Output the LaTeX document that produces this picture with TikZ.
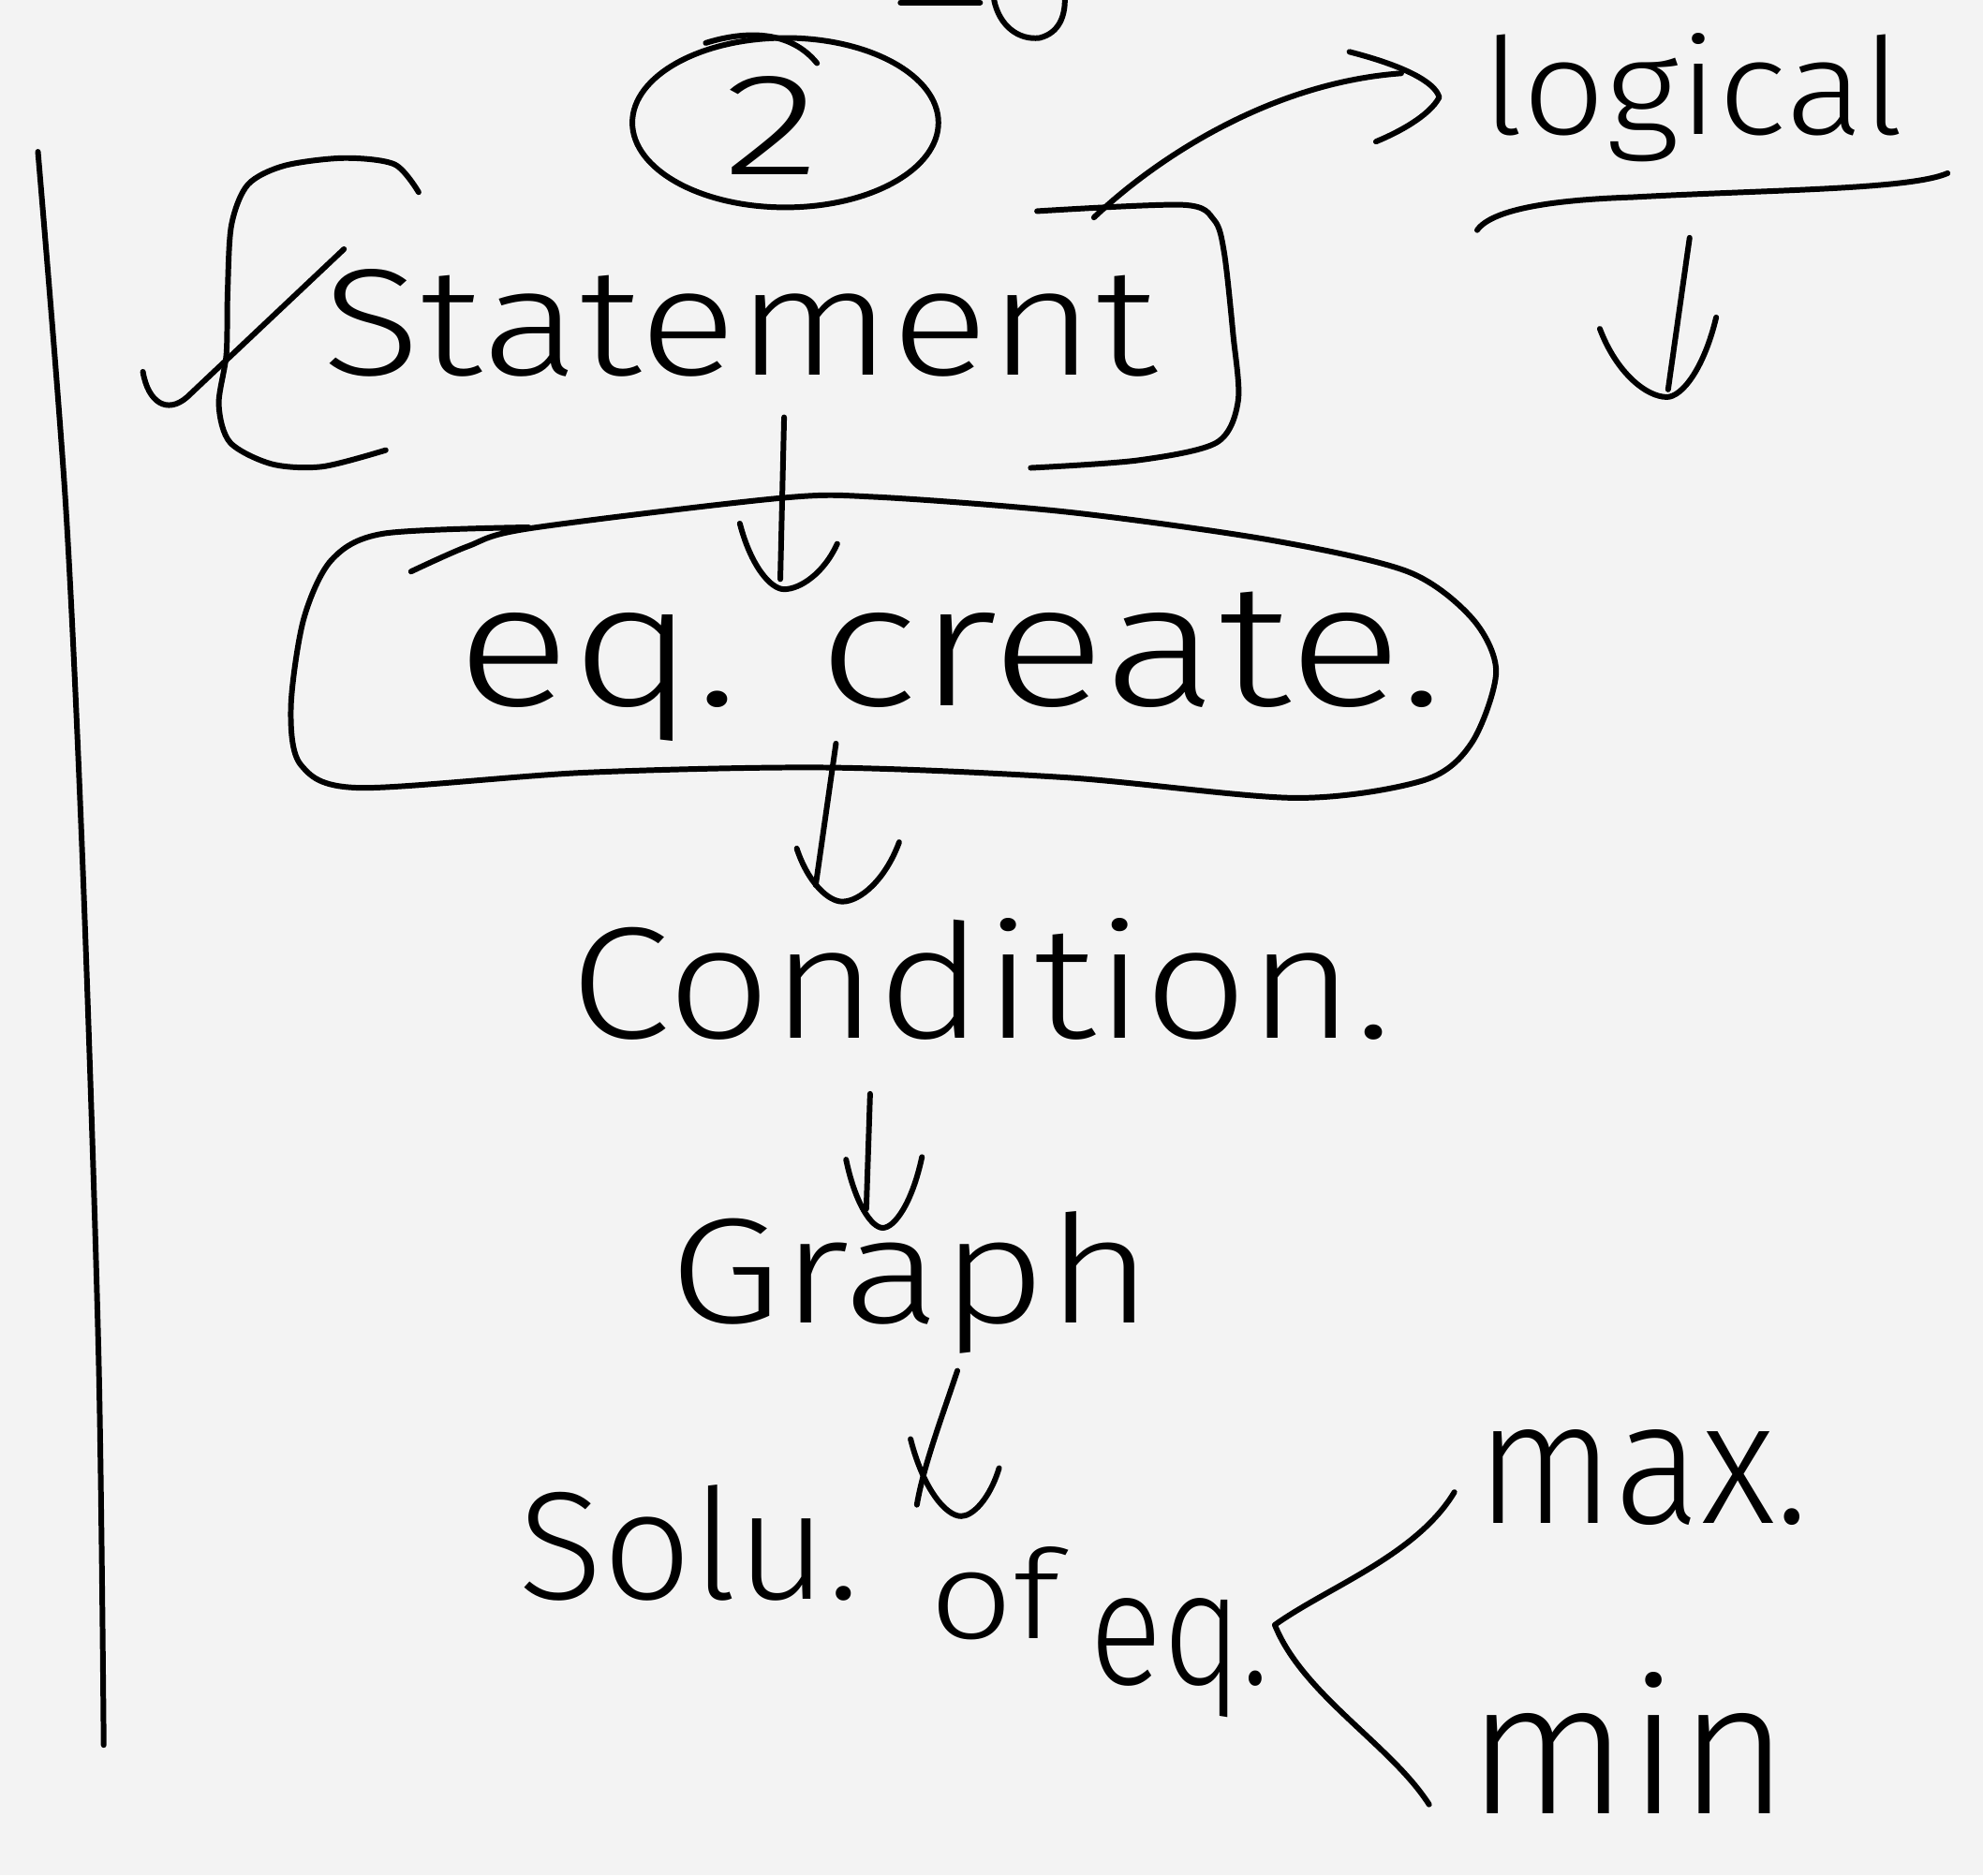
\documentclass[tikz,border=0pt]{standalone}
\usepackage{fontspec}
\usepackage{graphicx}
\newfontfamily\hand{Fira Sans}[UprightFont={* Light}]
\definecolor{paper}{HTML}{F3F3F3}
\tikzset{
  ink/.style={draw=black, line width=1.7pt, line cap=round, line join=round},
  word/.style={inner sep=0pt, outer sep=0pt, anchor=base west, text=black},
}
% V-shaped hand-drawn arrow head: tip, left arm offset (x,y), right arm offset (x,y)
\newcommand\vhead[5]{%
  \draw[ink] ([shift={(#2,#3)}]#1)
    .. controls ([shift={({0.75*#2},{0.35*#3})}]#1) and ([shift={({0.3*#2},0)}]#1) .. (#1)
    .. controls ([shift={({0.3*#4},0)}]#1) and ([shift={({0.75*#4},{0.35*#5})}]#1)
    .. ([shift={(#4,#5)}]#1);}
\begin{document}
\begin{tikzpicture}[x=0.0135cm, y=-0.0135cm]
\fill[paper] (0,0) rectangle (1568,1483);
\useasboundingbox (0,0) rectangle (1568,1483);

% margin line on the left
\draw[ink] plot[smooth] coordinates {(30,120) (52,400) (66,700) (78,1074) (82,1380)};

% stroke cut off at the top edge
\draw[ink] (712,2) -- (775,2);
\draw[ink] (786,0) .. controls (790,20) and (805,32) .. (822,30) .. controls (838,26) and (842,12) .. (842,0);

% circled number
\draw[ink] (621,97) ellipse [x radius=121, y radius=67];
\draw[ink] (558,34) .. controls (590,24) and (625,24) .. (646,50);
\node[word] (num) at (572,138) {\resizebox{1.03cm}{1.05cm}{\hand 2}};

% statement with brackets and root mark
\node[word] (stmt) at (255,297) {\resizebox{8.91cm}{1.13cm}{\hand Statement}};
\draw[ink] plot[smooth] coordinates {(331,152) (312,130) (272,125) (225,131) (196,146) (183,178) (180,230) (179,280) (173,320) (182,350) (215,367) (255,369) (305,356)};
\draw[ink] plot[smooth] coordinates {(820,167) (935,162) (960,174) (968,200) (975,264) (979,317) (962,350) (900,364) (815,370)};
\draw[ink] (113,294) .. controls (117,318) and (132,328) .. (148,314) -- (272,197);

% logical, underlined
\node[word] (logic) at (1172,106) {\resizebox{4.5cm}{1.08cm}{\hand logical}};
\draw[ink] (1168,182) .. controls (1180,165) and (1230,158) .. (1290,156) .. controls (1400,150) and (1510,150) .. (1540,137);

% arrow from the statement box to logical
\coordinate (ls) at (865,172);
\coordinate (le) at (1138,77);
\draw[ink] (ls) .. controls (920,120) and (1010,65) .. (1108,58);
\draw[ink] ([shift={(-71,-36)}]le) .. controls ([shift={(-28,-25)}]le) and ([shift={(-3,-12)}]le) .. (le)
  .. controls ([shift={(-8,15)}]le) and ([shift={(-33,28)}]le) .. ([shift={(-50,35)}]le);

% arrow below logical
\coordinate (d1) at (1336,188);
\coordinate (d2) at (1318,314);
\draw[ink] (d1) -- (1319,308);
\vhead{d2}{-53}{-54}{39}{-63}

% equation creation blob
\node[word] (eqc) at (361,558) {\resizebox{10.54cm}{1.215cm}{\hand eq. create.}};
\draw[ink] plot[smooth] coordinates {(325,452) (370,432) (418,418) (616,394) (692,393) (845,405) (1004,427) (1113,452) (1164,489) (1183,531) (1164,587) (1126,617) (1024,631) (845,615) (654,607) (462,611) (284,623) (238,605) (230,560) (240,490) (262,443) (303,422) (418,417)};

% statement to equation
\coordinate (a1s) at (620,330);
\coordinate (a1e) at (620,466);
\draw[ink] (a1s) -- (617,458);
\vhead{a1e}{-35}{-52}{42}{-36}

% condition
\node[word] (cond) at (451,821) {\resizebox{8.78cm}{1.28cm}{\hand Condition.}};
\coordinate (a2s) at (661,588);
\coordinate (a2e) at (666,713);
\draw[ink] (a2s) -- (645,700);
\vhead{a2e}{-36}{-42}{45}{-47}

% graph
\node[word] (graph) at (529,1046) {\resizebox{5.16cm}{1.19cm}{\hand Graph}};
\coordinate (a3s) at (688,865);
\coordinate (a3e) at (698,971);
\draw[ink] (a3s) -- (685,956);
\vhead{a3e}{-29}{-54}{31}{-56}

% solution, its words stepping down to the right
\node[word] (soln1) at (410,1265) {\resizebox{3.65cm}{1.22cm}{\hand Solu.}};
\node[word] (soln2) at (735,1296) {\resizebox{1.4cm}{0.98cm}{\hand of}};
\node[word] (soln3) at (862,1332) {\resizebox{1.92cm}{0.92cm}{\hand eq.}};
\coordinate (a4s) at (757,1084);
\coordinate (a4e) at (760,1199);
\draw[ink] (a4s) .. controls (745,1120) and (730,1160) .. (725,1190);
\vhead{a4e}{-40}{-61}{30}{-38}

% branching to max and min
\coordinate (bu) at (1150,1180);
\coordinate (bm) at (1008,1285);
\coordinate (bl) at (1130,1427);
\draw[ink] (bu) .. controls (1120,1230) and (1050,1255) .. (bm) .. controls (1030,1340) and (1100,1380) .. (bl);
\node[word] (max) at (1168,1205) {\resizebox{3.54cm}{1.0cm}{\hand max.}};
\node[word] (min) at (1160,1434) {\resizebox{3.44cm}{1.51cm}{\hand min}};
\end{tikzpicture}
\end{document}
